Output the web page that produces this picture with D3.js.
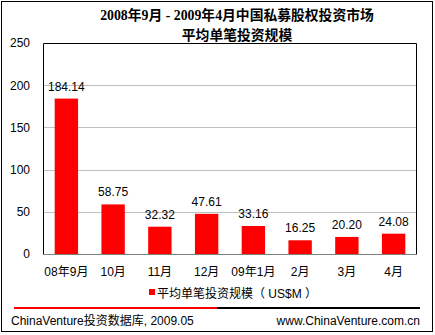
<!DOCTYPE html>
<html>
<head>
<meta charset="utf-8">
<script src="https://cdn.jsdelivr.net/npm/d3@7/dist/d3.min.js"></script>
<style>
  html, body { margin: 0; padding: 0; background: #fff; }
  svg { display: block; }
  text { font-family: Arial, "Liberation Sans", "Noto Sans CJK SC", sans-serif; }
</style>
</head>
<body>
<svg id="chart" width="435" height="335"></svg>
<script>
// Monthly average deal size, China private equity market (US$M)
const categories = ["08年9月", "10月", "11月", "12月", "09年1月", "2月", "3月", "4月"];
const values = [184.14, 58.75, 32.32, 47.61, 33.16, 16.25, 20.20, 24.08];
const yTicks = [0, 50, 100, 150, 200, 250];
const titleLines = ["2008年9月 - 2009年4月中国私募股权投资市场", "平均单笔投资规模"];
const legendLabel = "平均单笔投资规模（ US$M ）";
const sourceLeft = "ChinaVenture投资数据库, 2009.05";
const sourceRight = "www.ChinaVenture.com.cn";

const svg = d3.select("#chart");
const plot = { left: 43, right: 417, top: 43, bottom: 254 };

// outer frame
svg.append("rect")
  .attr("x", 1.5).attr("y", 1.5)
  .attr("width", 431).attr("height", 330)
  .attr("fill", "#fff").attr("stroke", "#000").attr("stroke-width", 1);

// title
const title = svg.append("text")
  .attr("text-anchor", "middle")
  .style("font-family", "'Liberation Serif', 'Times New Roman', 'Noto Sans CJK SC', serif")
  .style("font-weight", "bold")
  .style("font-size", "13.8px");
titleLines.forEach((t, i) => {
  title.append("tspan").attr("x", 237).attr("y", 20 + i * 20).text(t);
});

const x = d3.scaleBand().domain(categories).range([plot.left, plot.right]).paddingInner(0.5).paddingOuter(0.25);
const y = d3.scaleLinear().domain([0, 250]).range([plot.bottom, plot.top]);

// gridlines
svg.append("g")
  .selectAll("line")
  .data(yTicks.filter(d => d > 0 && d < 250))
  .join("line")
  .attr("x1", plot.left).attr("x2", plot.right)
  .attr("y1", d => Math.round(y(d)) + 0.5).attr("y2", d => Math.round(y(d)) + 0.5)
  .attr("stroke", "#c0c0c0").attr("stroke-width", 1);

// plot border: top, left, right black; bottom grey
svg.append("path")
  .attr("d", `M${plot.left + 0.5},${plot.bottom}V${plot.top + 0.5}H${plot.right - 0.5}V${plot.bottom}`)
  .attr("fill", "none").attr("stroke", "#000").attr("stroke-width", 1);

// bars
svg.append("g")
  .selectAll("rect")
  .data(values)
  .join("rect")
  .attr("x", (d, i) => x(categories[i]))
  .attr("width", x.bandwidth())
  .attr("y", d => y(d))
  .attr("height", d => y(0) - y(d))
  .attr("fill", "#ff0000");

svg.append("line")
  .attr("x1", plot.left).attr("x2", plot.right)
  .attr("y1", plot.bottom + 0.5).attr("y2", plot.bottom + 0.5)
  .attr("stroke", "#808080").attr("stroke-width", 1);

// value labels
svg.append("g")
  .selectAll("text")
  .data(values)
  .join("text")
  .attr("x", (d, i) => x(categories[i]) + x.bandwidth() / 2)
  .attr("y", d => y(d) - 8)
  .attr("text-anchor", "middle")
  .style("font-size", "12px")
  .text(d => d.toFixed(2));

// y axis
const yAxis = d3.axisLeft(y).tickValues(yTicks).tickSize(0).tickPadding(13);
const gy = svg.append("g").attr("transform", `translate(${plot.left},0)`).call(yAxis);
gy.select(".domain").remove();
gy.selectAll("text").style("font-size", "12px").style("font-family", "Arial, 'Liberation Sans', sans-serif").attr("fill", "#000");

// x axis
const xAxis = d3.axisBottom(x).tickSize(0).tickPadding(13);
const gx = svg.append("g").attr("transform", `translate(0,${plot.bottom})`).call(xAxis);
gx.select(".domain").remove();
gx.selectAll("text").style("font-size", "12px").style("font-family", "Arial, 'Liberation Sans', 'Noto Sans CJK SC', sans-serif").attr("fill", "#000");

// legend
svg.append("rect").attr("x", 149).attr("y", 289).attr("width", 6).attr("height", 6).attr("fill", "#ff0000");
svg.append("text").attr("x", 157).attr("y", 297.5).style("font-size", "12px").text(legendLabel);

// footer rule
svg.append("line").attr("x1", 14).attr("x2", 217).attr("y1", 308).attr("y2", 308).attr("stroke", "#ff0000").attr("stroke-width", 2);
svg.append("line").attr("x1", 217).attr("x2", 420).attr("y1", 308).attr("y2", 308).attr("stroke", "#000").attr("stroke-width", 2);

// footer text
svg.append("text").attr("x", 11).attr("y", 325).style("font-size", "12px").text(sourceLeft);
svg.append("text").attr("x", 420).attr("y", 325).attr("text-anchor", "end").style("font-size", "12px").text(sourceRight);
</script>
</body>
</html>
